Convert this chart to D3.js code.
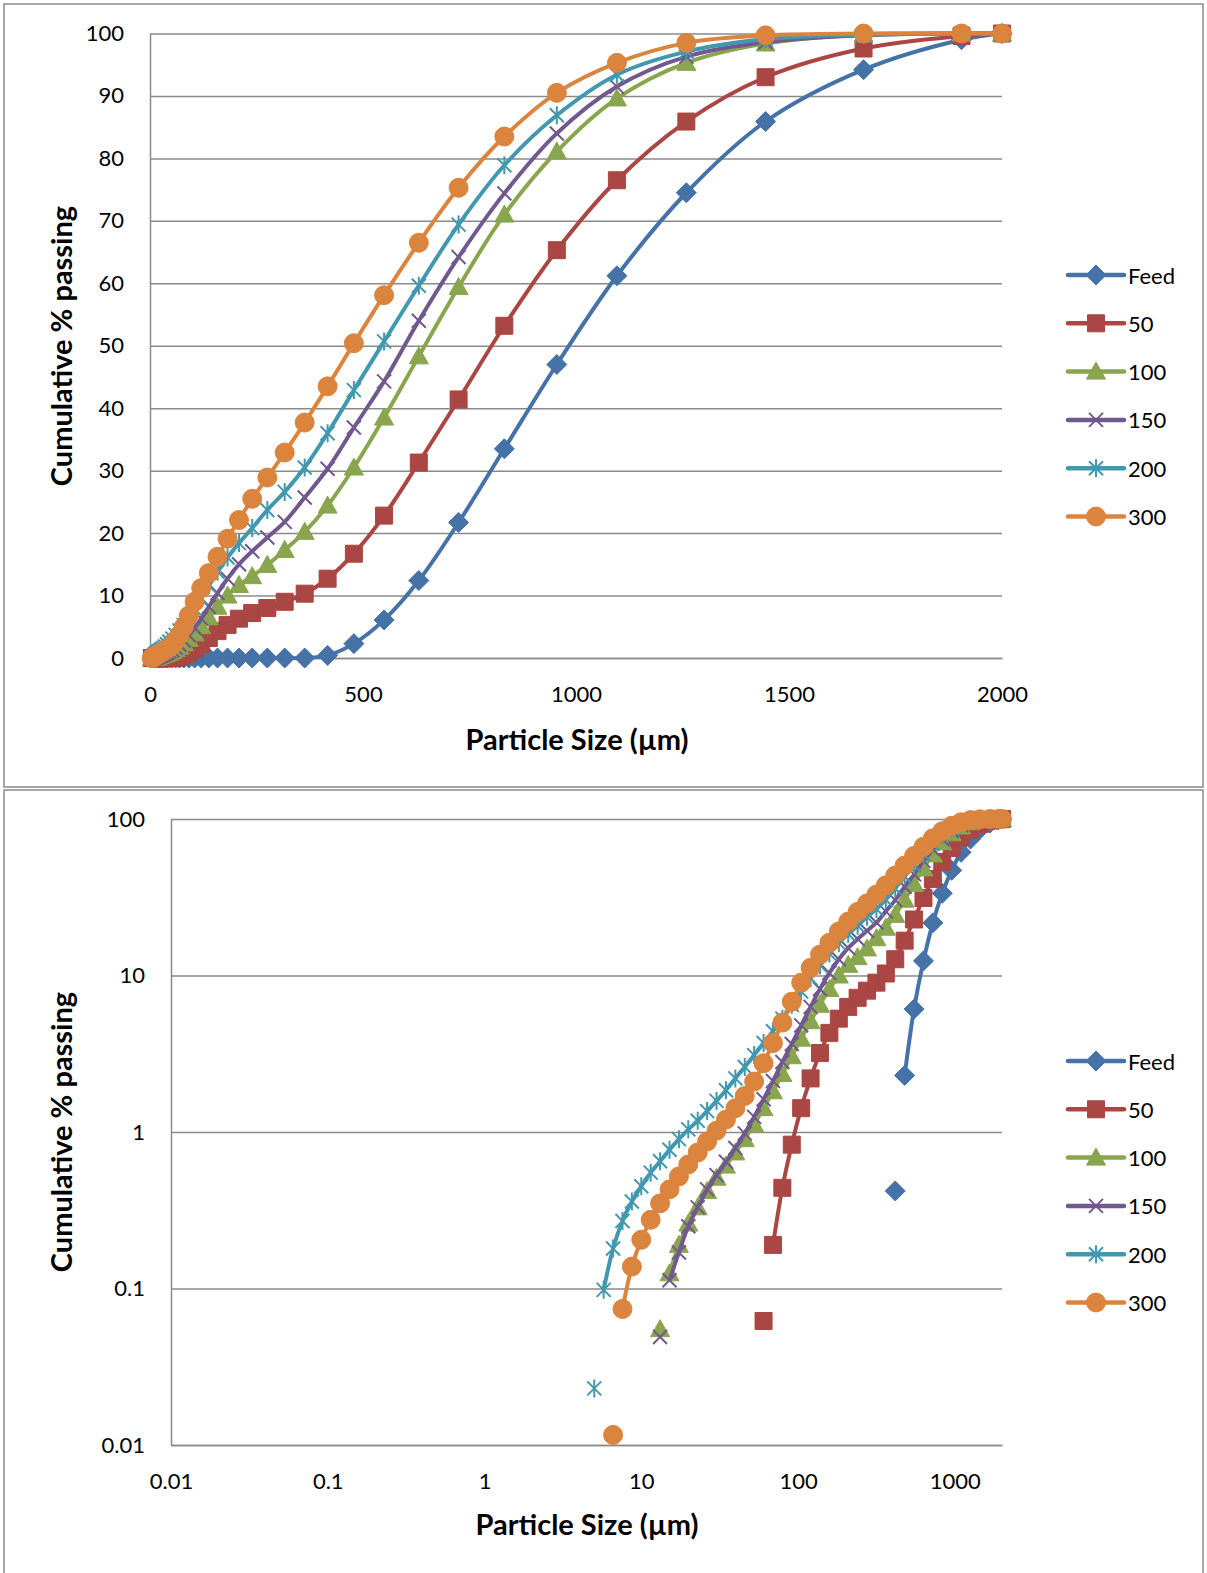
<!DOCTYPE html>
<html>
<head>
<meta charset="utf-8">
<script src="https://cdn.jsdelivr.net/npm/d3@7"></script>
<style>
  body { margin: 0; background: #fff; }
  text { font-family: Lato, "Open Sans", sans-serif; fill: #000; }
</style>
</head>
<body>
<div id="chart"></div>
<script>
// particle sizes (µm), laser diffraction size classes
const sizes = [4.365, 5.012, 5.754, 6.607, 7.586, 8.710, 10.00, 11.48, 13.18, 15.14,
  17.38, 19.95, 22.91, 26.30, 30.20, 34.67, 39.81, 45.71, 52.48, 60.26,
  69.18, 79.43, 91.20, 104.7, 120.2, 138.0, 158.5, 182.0, 208.9, 239.9,
  275.4, 316.2, 363.1, 416.9, 478.6, 549.5, 631.0, 724.4, 831.8, 955.0,
  1096, 1259, 1445, 1675, 1905, 2000];

// cumulative % passing for each series
const feed = [0, 0, 0, 0, 0, 0, 0, 0, 0, 0,
  0, 0, 0, 0, 0, 0, 0, 0, 0, 0,
  0, 0, 0, 0, 0, 0, 0, 0, 0, 0,
  0, 0, 0, 0.42, 2.3, 6.1, 12.4, 21.7, 33.5, 47.0,
  61.2, 74.5, 85.9, 94.2, 99.0, 100];
const p50 = [0, 0, 0, 0, 0, 0, 0, 0, 0, 0,
  0, 0, 0, 0, 0, 0, 0, 0, 0, 0.062,
  0.19, 0.44, 0.83, 1.42, 2.2, 3.2, 4.3, 5.3, 6.3, 7.2,
  8.0, 9.0, 10.3, 12.7, 16.7, 22.8, 31.3, 41.4, 53.2, 65.3,
  76.5, 85.9, 93.0, 97.6, 99.6, 100];
const p100 = [0, 0, 0, 0, 0, 0, 0, 0, 0.055, 0.125,
  0.19, 0.26, 0.33, 0.42, 0.51, 0.61, 0.74, 0.9, 1.12, 1.42,
  1.82, 2.35, 3.05, 3.95, 5.1, 6.5, 8.2, 10.0, 11.7, 13.1,
  14.9, 17.3, 20.2, 24.4, 30.5, 38.5, 48.3, 59.4, 71.0, 81.1,
  89.6, 95.3, 98.4, 99.8, 100, 100];
const p150 = [0, 0, 0, 0, 0, 0, 0, 0, 0.049, 0.113,
  0.17, 0.25, 0.33, 0.43, 0.53, 0.645, 0.79, 0.98, 1.25, 1.62,
  2.12, 2.8, 3.65, 4.8, 6.3, 8.2, 10.4, 12.7, 15.0, 17.1,
  19.3, 21.8, 25.7, 30.3, 36.9, 44.3, 54.0, 64.2, 74.4, 84.0,
  91.5, 96.3, 98.6, 99.7, 100, 100];
const p200 = [0, 0.023, 0.098, 0.18, 0.27, 0.36, 0.45, 0.55, 0.65, 0.77,
  0.9, 1.04, 1.18, 1.36, 1.58, 1.85, 2.2, 2.6, 3.1, 3.7,
  4.4, 5.3, 6.5, 7.9, 9.6, 11.6, 13.8, 16.1, 18.4, 20.8,
  23.7, 26.6, 30.5, 36.0, 42.9, 50.7, 59.6, 69.4, 78.9, 86.9,
  93.4, 97.1, 99.1, 99.8, 100, 100];
const p300 = [0, 0, 0, 0.0116, 0.074, 0.138, 0.205, 0.275, 0.35, 0.43,
  0.52, 0.62, 0.74, 0.87, 1.02, 1.2, 1.42, 1.7, 2.1, 2.75,
  3.7, 5.0, 6.8, 9.0, 11.2, 13.6, 16.2, 19.1, 22.1, 25.5,
  28.9, 32.9, 37.7, 43.5, 50.4, 58.1, 66.5, 75.3, 83.5, 90.5,
  95.3, 98.5, 99.7, 100, 100, 100];

const seriesNames = ["Feed", "50", "100", "150", "200", "300"];
const seriesValues = [feed, p50, p100, p150, p200, p300];
const colors = ["#4572A7", "#AA4643", "#89A54E", "#71588F", "#4198AF", "#DB843D"];
const markers = ["diamond", "square", "triangle", "x", "star", "circle"];

const linTicksX = [0, 500, 1000, 1500, 2000];
const linTicksY = [0, 10, 20, 30, 40, 50, 60, 70, 80, 90, 100];
const logTicksX = [0.01, 0.1, 1, 10, 100, 1000];
const logTicksY = [0.01, 0.1, 1, 10, 100];

const W = 1207, H = 1573;
const svg = d3.select("#chart").append("svg")
  .attr("width", W).attr("height", H);
svg.append("rect").attr("width", W).attr("height", H).attr("fill", "#fff");

const series = seriesNames.map((name, i) => ({
  name: name, color: colors[i], marker: markers[i],
  points: sizes.map((s, j) => ({x: s, y: seriesValues[i][j]}))
}));

function markerPath(type) {
  switch (type) {
    case "diamond": return "M0,-10L10,0L0,10L-10,0Z";
    case "square": return "M-8.5,-8.5H8.5V8.5H-8.5Z";
    case "triangle": return "M0,-9.5L9.5,7.5H-9.5Z";
    case "x": return "M-7,-7L7,7M-7,7L7,-7";
    case "star": return "M-7,-7L7,7M-7,7L7,-7M0,-9V9";
    default: return d3.symbol(d3.symbolCircle, Math.PI * 9.5 * 9.5)();
  }
}
function styleMarker(sel, s) {
  const open = s.marker === "x" || s.marker === "star";
  sel.attr("d", markerPath(s.marker))
    .attr("fill", open ? "none" : s.color)
    .attr("stroke", s.color)
    .attr("stroke-width", open ? 2 : 1);
}

function drawPanel(cfg) {
  const g = svg.append("g");
  const x = cfg.x, y = cfg.y;
  const [x0, x1] = x.range();
  const [y0, y1] = y.range();

  // panel border
  g.append("rect")
    .attr("x", cfg.box[0]).attr("y", cfg.box[1])
    .attr("width", cfg.box[2]).attr("height", cfg.box[3])
    .attr("fill", "none").attr("stroke", "#8a8a8a").attr("stroke-width", 1.5);

  // gridlines
  g.append("g")
    .attr("transform", `translate(${x0},0)`)
    .call(d3.axisLeft(y).tickValues(cfg.yTicks).tickSize(-(x1 - x0)).tickFormat(""))
    .call(a => a.select(".domain").remove())
    .call(a => a.selectAll("line").attr("stroke", "#8a8a8a").attr("stroke-width", 1.5));

  // left axis line + labels
  g.append("g")
    .attr("transform", `translate(${x0},0)`)
    .call(d3.axisLeft(y).tickValues(cfg.yTicks).tickSize(0).tickPadding(26).tickFormat(cfg.yFormat))
    .call(a => a.select(".domain").attr("stroke", "#8a8a8a").attr("stroke-width", 1.5))
    .call(a => a.selectAll("text").attr("font-size", 22).attr("font-family", "Lato"));

  // bottom axis
  g.append("g")
    .attr("transform", `translate(0,${y0})`)
    .call(d3.axisBottom(x).tickValues(cfg.xTicks).tickSize(0).tickPadding(28).tickFormat(cfg.xFormat))
    .call(a => a.select(".domain").attr("stroke", "#8a8a8a").attr("stroke-width", 1.5))
    .call(a => a.selectAll("text").attr("font-size", 22).attr("font-family", "Lato"));

  // axis titles
  g.append("text")
    .attr("x", cfg.xTitle[0]).attr("y", cfg.xTitle[1])
    .attr("text-anchor", "middle").attr("dominant-baseline", "central")
    .attr("font-size", 29).attr("font-weight", "bold")
    .text("Particle Size (µm)");
  g.append("text")
    .attr("transform", `translate(${cfg.yTitle[0]},${cfg.yTitle[1]}) rotate(-90)`)
    .attr("text-anchor", "middle").attr("dominant-baseline", "central")
    .attr("font-size", 29).attr("font-weight", "bold")
    .text("Cumulative % passing");

  // series
  series.forEach(s => {
    const line = d3.line()
      .defined(cfg.defined)
      .x(d => x(d.x)).y(d => y(d.y))
      .curve(d3.curveCatmullRom.alpha(0.5));
    g.append("path")
      .datum(s.points)
      .attr("d", line)
      .attr("fill", "none")
      .attr("stroke", s.color)
      .attr("stroke-width", 4)
      .attr("stroke-linejoin", "round");
    g.append("g").selectAll("path")
      .data(s.points.filter(cfg.showPoint))
      .join("path")
      .attr("transform", d => `translate(${x(d.x)},${y(d.y)})`)
      .call(sel => styleMarker(sel, s));
  });

  // legend
  const lg = g.append("g").attr("transform", `translate(1068,${cfg.legendTop})`);
  series.forEach((s, i) => {
    const row = lg.append("g").attr("transform", `translate(0,${i * 48.3})`);
    row.append("line").attr("x1", 0).attr("x2", 56)
      .attr("stroke", s.color).attr("stroke-width", 4.5).attr("stroke-linecap", "round");
    row.append("path").attr("transform", "translate(28,0)").call(sel => styleMarker(sel, s));
    row.append("text").attr("x", 60).attr("y", 0)
      .attr("dominant-baseline", "central").attr("font-size", 22)
      .text(s.name);
  });
}

// linear panel
drawPanel({
  x: d3.scaleLinear().domain([0, 2000]).range([150, 1002]),
  y: d3.scaleLinear().domain([0, 100]).range([658, 33.5]),
  xTicks: linTicksX, yTicks: linTicksY,
  xFormat: d3.format("d"), yFormat: d3.format("d"),
  box: [4, 4, 1199, 783],
  xTitle: [577, 738], yTitle: [60, 346],
  legendTop: 275,
  defined: () => true,
  showPoint: () => true
});

// log-log panel: zero values cannot be shown; Excel drops the segment after a gap
drawPanel({
  x: d3.scaleLog().domain([0.01, 2000]).range([171, 1002]),
  y: d3.scaleLog().domain([0.01, 100]).range([1445, 819]),
  xTicks: logTicksX, yTicks: logTicksY,
  xFormat: d => String(d), yFormat: d => String(d),
  box: [4, 790, 1199, 800],
  xTitle: [587, 1523], yTitle: [60, 1132],
  legendTop: 1061,
  defined: (d, i, arr) => i > 0 && arr[i - 1].y > 0 && d.y > 0,
  showPoint: d => d.y > 0
});
</script>
</body>
</html>
